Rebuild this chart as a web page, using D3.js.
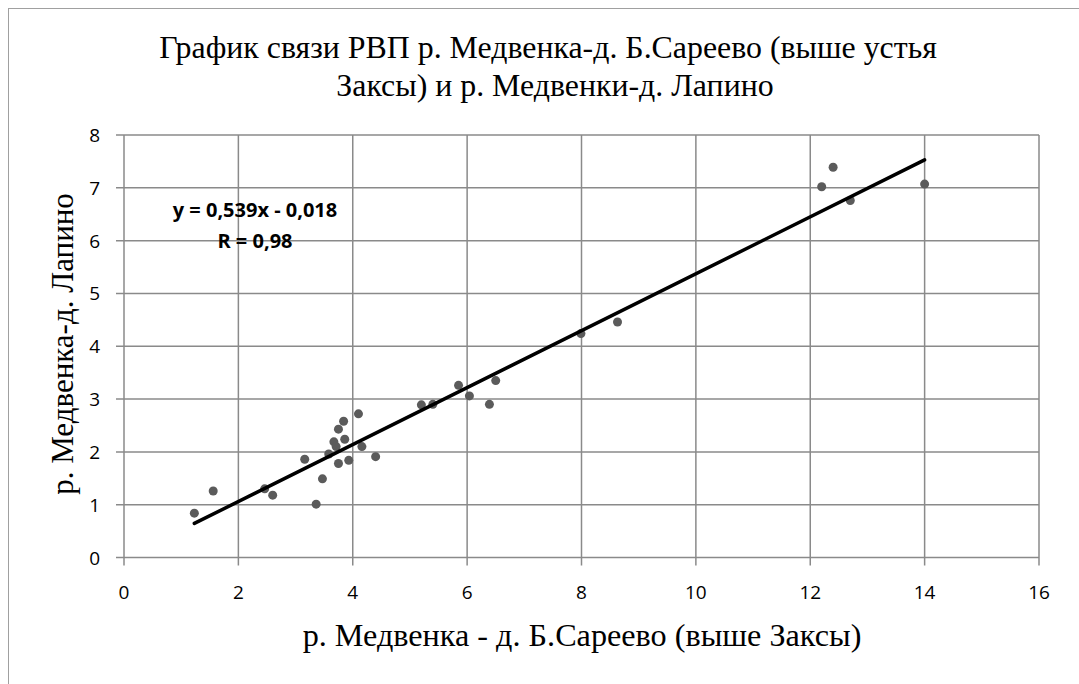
<!DOCTYPE html>
<html>
<head>
<meta charset="utf-8">
<script src="https://cdn.jsdelivr.net/npm/d3@7"></script>
<style>
  body { margin: 0; background: #fff; }
  text { fill: #000; }
</style>
</head>
<body>
<svg width="1079" height="684"></svg>
<script>
// observed pairs: x = Б.Сареево, y = Лапино
var xVals = [1.23, 1.56, 2.46, 2.60, 3.16, 3.36, 3.47, 3.58, 3.67, 3.71, 3.75, 3.84, 3.86, 3.75, 3.93, 4.10, 4.16, 4.40,
             5.20, 5.40, 5.85, 6.04, 6.39, 6.50, 7.99, 8.63, 12.20, 12.40, 12.70, 14.00];
var yVals = [0.84, 1.26, 1.30, 1.18, 1.86, 1.01, 1.49, 1.96, 2.19, 2.10, 2.43, 2.58, 2.24, 1.78, 1.84, 2.72, 2.10, 1.91,
             2.89, 2.90, 3.26, 3.06, 2.90, 3.35, 4.24, 4.46, 7.02, 7.39, 6.76, 7.07];
var xTicks = [0, 2, 4, 6, 8, 10, 12, 14, 16];
var yTicks = [0, 1, 2, 3, 4, 5, 6, 7, 8];
var slope = 0.539, intercept = -0.018;
var titleLines = ["График связи РВП р. Медвенка-д. Б.Сареево (выше устья", "Заксы) и р. Медвенки-д. Лапино"];
var xTitle = "р. Медвенка - д. Б.Сареево (выше Заксы)";
var yTitle = "р. Медвенка-д. Лапино";
var eqLines = ["y = 0,539x - 0,018", "R = 0,98"];

var svg = d3.select("svg"),
    margin = {top: 135, right: 40, bottom: 127, left: 124},
    width = 1079 - margin.left - margin.right,
    height = 684 - margin.top - margin.bottom;

// outer chart frame (only left/top visible)
svg.append("rect")
  .attr("x", 8.5).attr("y", 8.5)
  .attr("width", 1100).attr("height", 700)
  .attr("fill", "none").attr("stroke", "#a0a0a0").attr("stroke-width", 1);

var g = svg.append("g")
  .attr("transform", "translate(" + margin.left + "," + margin.top + ")");

var x = d3.scaleLinear().domain([0, 16]).range([0, 915]);
var y = d3.scaleLinear().domain([0, 8]).range([422.5, 0]);

var gridColor = "#8a8a8a";

// grid
g.append("g").selectAll("line").data(yTicks).join("line")
  .attr("x1", -8).attr("x2", x(16))
  .attr("y1", d => y(d)).attr("y2", d => y(d))
  .attr("stroke", gridColor).attr("stroke-width", 1.5);

g.append("g").selectAll("line").data(xTicks).join("line")
  .attr("x1", d => x(d)).attr("x2", d => x(d))
  .attr("y1", 0).attr("y2", y(0) + 8)
  .attr("stroke", gridColor).attr("stroke-width", 1.5);

// tick labels
var tickFont = "'Open Sans', sans-serif";
g.append("g").selectAll("text").data(xTicks).join("text")
  .attr("x", d => x(d)).attr("y", y(0) + 41)
  .attr("text-anchor", "middle")
  .style("font-family", tickFont).style("font-size", "19px")
  .text(d => d);

g.append("g").selectAll("text").data(yTicks).join("text")
  .attr("x", -24).attr("y", d => y(d) + 7)
  .attr("text-anchor", "end")
  .style("font-family", tickFont).style("font-size", "19px")
  .text(d => d);

// points
g.append("g").selectAll("circle").data(d3.range(xVals.length)).join("circle")
  .attr("cx", i => x(xVals[i])).attr("cy", i => y(yVals[i]))
  .attr("r", 4.5)
  .attr("fill", "#5b5b5b");

// trend line
var xMin = d3.min(xVals), xMax = d3.max(xVals);
g.append("line")
  .attr("x1", x(xMin)).attr("y1", y(slope * xMin + intercept))
  .attr("x2", x(xMax)).attr("y2", y(slope * xMax + intercept))
  .attr("stroke", "#000").attr("stroke-width", 3.5)
  .attr("stroke-linecap", "round");

// equation
g.append("g").selectAll("text").data(eqLines).join("text")
  .attr("x", 131).attr("y", (d, i) => 82 + i * 31)
  .attr("text-anchor", "middle")
  .style("font-family", tickFont).style("font-size", "20px").style("font-weight", "bold")
  .text(d => d);

// titles, sized to the widths seen in the picture
var serif = "'Liberation Serif', 'Times New Roman', serif";
function fit(sel, target) {
  sel.style("font-size", "24px");
  var w = sel.node().getComputedTextLength();
  sel.style("font-size", (24 * target / w) + "px");
}

var t1 = svg.append("text")
  .attr("x", 548).attr("y", 58)
  .attr("text-anchor", "middle")
  .style("font-family", serif)
  .text(titleLines[0]);
fit(t1, 778);
svg.append("text")
  .attr("x", 555).attr("y", 96)
  .attr("text-anchor", "middle")
  .style("font-family", serif)
  .style("font-size", t1.style("font-size"))
  .text(titleLines[1]);

var xt = svg.append("text")
  .attr("x", 582).attr("y", 646)
  .attr("text-anchor", "middle")
  .style("font-family", serif)
  .text(xTitle);
fit(xt, 559);

svg.append("text")
  .attr("transform", "translate(73," + (margin.top + 209) + ") rotate(-90)")
  .attr("text-anchor", "middle")
  .style("font-family", serif)
  .style("font-size", "31px")
  .text(yTitle);
</script>
</body>
</html>
